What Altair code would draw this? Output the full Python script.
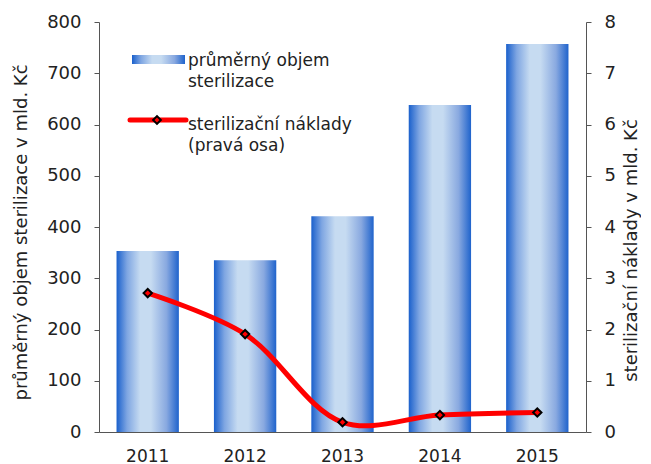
import altair as alt
import pandas as pd

years = ["2011", "2012", "2013", "2014", "2015"]
volume = [353, 335, 421, 638, 757]
costs = [2.71, 1.91, 0.19, 0.33, 0.38]

df = pd.DataFrame({"year": years, "volume": volume, "costs": costs})
one = pd.DataFrame({"k": [0]})

FONT = "DejaVu Sans"
AX = "#555555"
TXT = "#222222"

grad = alt.Gradient(
    gradient="linear", x1=0, x2=1, y1=0, y2=0,
    stops=[
        alt.GradientStop(color="#1a60cc", offset=0),
        alt.GradientStop(color="#7fa6e2", offset=0.17),
        alt.GradientStop(color="#c6dbf1", offset=0.38),
        alt.GradientStop(color="#c6dbf1", offset=0.55),
        alt.GradientStop(color="#89a9e0", offset=0.8),
        alt.GradientStop(color="#1f63cc", offset=1),
    ],
)

xenc = alt.X(
    "year:N", title=None,
    scale=alt.Scale(paddingInner=0.36, paddingOuter=0.18),
    axis=alt.Axis(labelAngle=0, ticks=False, tickSize=0, labelPadding=16,
                  labelFontSize=17, domainColor=AX, labelColor=TXT),
)

bars = alt.Chart(df).mark_bar(color=grad).encode(
    x=xenc,
    y=alt.Y("volume:Q", scale=alt.Scale(domain=[0, 800]),
            axis=alt.Axis(values=[0, 100, 200, 300, 400, 500, 600, 700, 800],
                          title="průměrný objem sterilizace v mld. Kč",
                          orient="left", grid=False, tickSize=5, labelPadding=13,
                          titleAngle=270, titleX=-78, titleY=210,
                          titleAlign="center", titleBaseline="middle",
                          domainColor=AX, tickColor=AX,
                          labelColor=TXT, titleColor=TXT)),
)

line = alt.Chart(df).mark_line(
    color="#ff0000", strokeWidth=5, interpolate="catmull-rom",
    point=alt.OverlayMarkDef(shape="diamond", filled=True, fill="#ff0000",
                             stroke="#000000", strokeWidth=2, size=70),
).encode(
    x=alt.X("year:N"),
    y=alt.Y("costs:Q", scale=alt.Scale(domain=[0, 8]),
            axis=alt.Axis(values=[0, 1, 2, 3, 4, 5, 6, 7, 8],
                          title="sterilizační náklady v mld. Kč",
                          orient="right", grid=False, tickSize=5, labelPadding=13,
                          titleAngle=270, titleX=45, titleY=228,
                          titleAlign="center", titleBaseline="middle",
                          domainColor=AX, tickColor=AX,
                          labelColor=TXT, titleColor=TXT)),
)

leg_rect = alt.Chart(one).mark_rect(color=grad).encode(
    x=alt.value(33), x2=alt.value(86), y=alt.value(33), y2=alt.value(42)
)
leg_line = alt.Chart(one).mark_rule(color="#ff0000", strokeWidth=5, strokeCap="round").encode(
    x=alt.value(31), x2=alt.value(87), y=alt.value(98)
)
leg_pt = alt.Chart(one).mark_point(shape="diamond", filled=True, fill="#ff0000",
                                   stroke="#000000", strokeWidth=2, size=60, opacity=1).encode(
    x=alt.value(58), y=alt.value(98)
)
leg_t1 = alt.Chart(one).mark_text(
    text="průměrný objem\nsterilizace", lineBreak="\n", lineHeight=21, align="left",
    baseline="alphabetic", font=FONT, fontSize=17, color=TXT
).encode(x=alt.value(89), y=alt.value(44))
leg_t2 = alt.Chart(one).mark_text(
    text="sterilizační náklady\n(pravá osa)", lineBreak="\n", lineHeight=21, align="left",
    baseline="alphabetic", font=FONT, fontSize=17, color=TXT
).encode(x=alt.value(89), y=alt.value(108))

chart = alt.layer(bars, line, leg_rect, leg_line, leg_pt, leg_t1, leg_t2).resolve_scale(
    y="independent"
).properties(
    width=487, height=410,
    autosize=alt.AutoSizeParams(type="none"),
    padding={"left": 91, "top": 14, "right": 55, "bottom": 36},
).configure_view(stroke=None).configure_axis(
    labelFont=FONT, titleFont=FONT, labelFontSize=18, titleFontSize=18,
    titleFontWeight="normal",
)

chart.save("out.html", embed_options={"renderer": "svg", "actions": False})
